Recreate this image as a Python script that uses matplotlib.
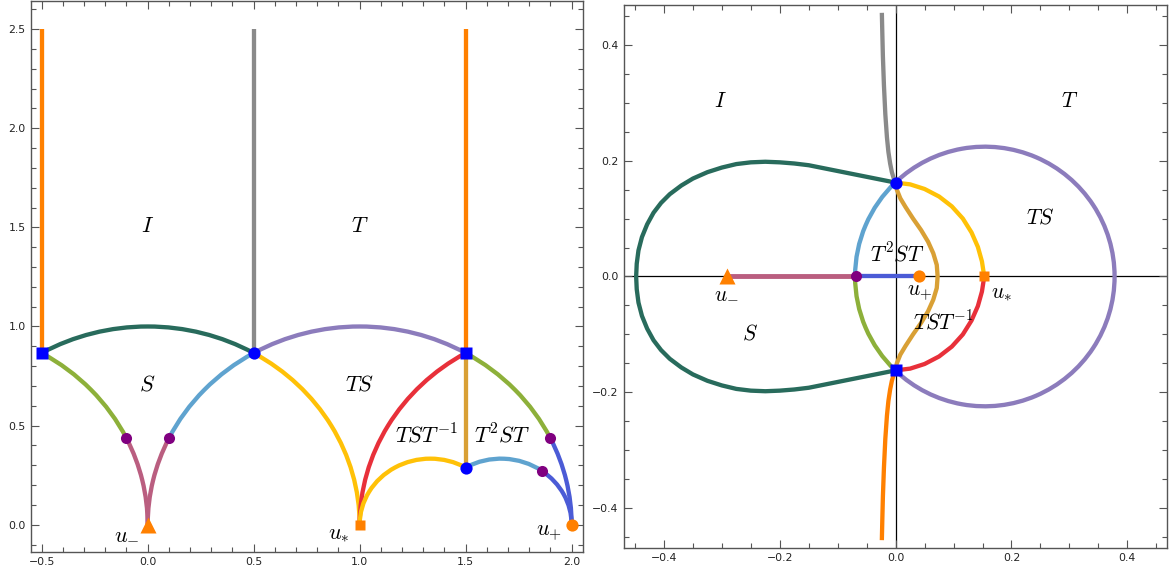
import matplotlib
matplotlib.use("Agg")
import matplotlib.pyplot as plt
from matplotlib.patches import Arc
from matplotlib.ticker import MultipleLocator, FuncFormatter

plt.rcParams['mathtext.fontset'] = 'cm'
plt.rcParams['font.family'] = ['DejaVu Sans']

# ---------------- colours ----------------
C_ORANGE = '#FF8000'
C_GRAY = '#8A8A8A'
C_DKGREEN = '#286B5C'
C_PURPLE = '#8C7CBC'
C_OLIVE = '#8DB03A'
C_LTBLUE = '#5FA3CF'
C_MAUVE = '#BA5E80'
C_YELLOW = '#FFC107'
C_RED = '#E8303A'
C_ROYAL = '#4B5BD6'
C_GOLD = '#D9A035'
C_DOT_PURPLE = '#800080'
C_DOT_BLUE = '#0000FF'

# ---------------- left panel data (tau plane) ----------------
# circular arcs: centre x (on real axis), radius, start angle, end angle (degrees)
L_arc_cx = [0.0, 1.0, -1.0, -1.0, 1.0, 1.0, 0.0, 2.0, 1.0, 1.0, 1.3333, 1.6667, 1.6667]
L_arc_r = [1.0, 1.0, 1.0, 1.0, 1.0, 1.0, 1.0, 1.0, 1.0, 1.0, 0.3333, 0.3333, 0.3333]
L_arc_t1 = [60, 60, 25.84, 0, 120, 154.16, 0, 120, 25.84, 0, 60, 54.6, 0]
L_arc_t2 = [120, 120, 60, 25.84, 154.16, 180, 60, 180, 60, 25.84, 180, 120, 54.6]
L_arc_col = [C_DKGREEN, C_PURPLE, C_OLIVE, C_MAUVE, C_LTBLUE, C_MAUVE, C_YELLOW,
             C_RED, C_OLIVE, C_ROYAL, C_YELLOW, C_LTBLUE, C_ROYAL]

# vertical segments: x, y bottom, y top
L_vx = [1.5, -0.5, 0.5, 1.5]
L_vy0 = [0.2887, 0.866, 0.866, 0.866]
L_vy1 = [0.866, 2.5, 2.5, 2.5]
L_vcol = [C_GOLD, C_ORANGE, C_GRAY, C_ORANGE]

# markers
L_bsq_x, L_bsq_y = [-0.5, 1.5], [0.866, 0.866]
L_bci_x, L_bci_y = [0.5, 1.5], [0.866, 0.2887]
L_pur_x, L_pur_y = [-0.1, 0.1, 1.9, 1.86], [0.436, 0.436, 0.436, 0.271]
L_umin = (0.0, 0.0)
L_ustar = (1.0, 0.0)
L_uplus = (2.0, 0.0)

L_labels = ['$I$', '$T$', '$S$', '$TS$', '$TST^{-1}$', '$T^2ST$', '$u_{-}$', '$u_{*}$', '$u_{+}$']
L_lab_x = [0.0, 1.0, 0.0, 1.0, 1.316, 1.673, -0.10, 0.90, 1.895]
L_lab_y = [1.506, 1.506, 0.706, 0.706, 0.453, 0.453, -0.045, -0.048, -0.045]

# ---------------- right panel data (u plane) ----------------
R_circ_c = (0.154, 0.0)
R_circ_r = 0.224
R_arc_t1 = [-133.5, 133.5, 180.0]
R_arc_t2 = [133.5, 180.0, 226.5]
R_arc_col = [C_PURPLE, C_LTBLUE, C_OLIVE]

R_loop_x = [0.000, -0.025, -0.050, -0.075, -0.100, -0.125, -0.150, -0.175, -0.200, -0.225,
            -0.250, -0.275, -0.300, -0.325, -0.350, -0.370, -0.390, -0.405, -0.418, -0.429,
            -0.438, -0.444, -0.447, -0.448,
            -0.447, -0.444, -0.438, -0.429, -0.418, -0.405, -0.390, -0.370, -0.350, -0.325,
            -0.300, -0.275, -0.250, -0.225, -0.200, -0.175, -0.150, -0.125, -0.100, -0.075,
            -0.050, -0.025, 0.000]
R_loop_y = [0.162, 0.167, 0.172, 0.177, 0.182, 0.187, 0.192, 0.195, 0.197, 0.198,
            0.197, 0.194, 0.188, 0.180, 0.169, 0.157, 0.142, 0.127, 0.110, 0.090,
            0.068, 0.045, 0.022, 0.000,
            -0.022, -0.045, -0.068, -0.090, -0.110, -0.127, -0.142, -0.157, -0.169, -0.180,
            -0.188, -0.194, -0.197, -0.198, -0.197, -0.195, -0.192, -0.187, -0.182, -0.177,
            -0.172, -0.167, -0.162]

R_gold_x = [0.000, 0.002, 0.008, 0.017, 0.030, 0.044, 0.056, 0.065, 0.071, 0.0725,
            0.071, 0.065, 0.056, 0.044, 0.030, 0.017, 0.008, 0.002, 0.000]
R_gold_y = [0.162, 0.150, 0.135, 0.120, 0.100, 0.080, 0.060, 0.040, 0.020, 0.000,
            -0.020, -0.040, -0.060, -0.080, -0.100, -0.120, -0.135, -0.150, -0.162]

R_yel_x = [0.000, 0.025, 0.050, 0.075, 0.097, 0.116, 0.131, 0.142, 0.149, 0.153]
R_yel_y = [0.162, 0.159, 0.151, 0.138, 0.121, 0.100, 0.076, 0.051, 0.026, 0.000]
R_red_x = [0.153, 0.149, 0.142, 0.131, 0.116, 0.097, 0.075, 0.050, 0.025, 0.000]
R_red_y = [0.000, -0.026, -0.051, -0.076, -0.100, -0.121, -0.138, -0.151, -0.159, -0.162]

R_gray_x = [0.000, -0.0035, -0.0065, -0.0095, -0.0125, -0.015, -0.0178, -0.0202, -0.022, -0.023, -0.0238]
R_gray_y = [0.162, 0.170, 0.180, 0.195, 0.215, 0.240, 0.280, 0.330, 0.380, 0.420, 0.455]
R_oran_x = [0.000, -0.0035, -0.0065, -0.0095, -0.0125, -0.015, -0.0178, -0.0202, -0.022, -0.023, -0.0238]
R_oran_y = [-0.162, -0.170, -0.180, -0.195, -0.215, -0.240, -0.280, -0.330, -0.380, -0.420, -0.455]

R_mauve_x, R_mauve_y = [-0.292, -0.069], [0.0, 0.0]
R_blue_x, R_blue_y = [-0.069, 0.041], [0.0, 0.0]

R_bci = (0.0, 0.162)
R_bsq = (0.0, -0.162)
R_pur = (-0.069, 0.0)
R_umin = (-0.292, 0.0)
R_ustar = (0.153, 0.0)
R_uplus = (0.041, 0.0)

R_labels = ['$I$', '$T$', '$TS$', '$T^2ST$', '$S$', '$TST^{-1}$', '$u_{-}$', '$u_{+}$', '$u_{*}$']
R_lab_x = [-0.302, 0.300, 0.250, 0.003, -0.251, 0.082, -0.293, 0.041, 0.183]
R_lab_y = [0.302, 0.302, 0.102, 0.041, -0.098, -0.077, -0.028, -0.028, -0.028]

LW = 3.1
FRAME = '#555555'
MS_CIRC, MS_SQ, MS_PUR, MS_TRI = 8.8, 8.3, 8.0, 11.5


def style_axes(ax, major, minor):
    ax.xaxis.set_major_locator(MultipleLocator(major))
    ax.xaxis.set_minor_locator(MultipleLocator(minor))
    ax.yaxis.set_major_locator(MultipleLocator(major))
    ax.yaxis.set_minor_locator(MultipleLocator(minor))
    fmt = FuncFormatter(lambda v, p: ('%.1f' % v).replace('-', '\u2212'))
    ax.xaxis.set_major_formatter(fmt)
    ax.yaxis.set_major_formatter(fmt)
    ax.tick_params(which='both', direction='in', top=True, right=True,
                   color=FRAME, width=0.8, labelsize=7.8, labelcolor='#222222')
    ax.tick_params(which='major', length=6, pad=3.8)
    ax.tick_params(which='minor', length=3.5)
    for s in ax.spines.values():
        s.set_color(FRAME)
        s.set_linewidth(1.0)


fig = plt.figure(figsize=(11.76, 5.75), dpi=100)

# ---------------- left ----------------
axL = fig.add_axes([0.02636, 0.0405, 0.4691, 0.9575])
for cx, r, t1, t2, c in zip(L_arc_cx, L_arc_r, L_arc_t1, L_arc_t2, L_arc_col):
    axL.add_patch(Arc((cx, 0.0), 2 * r, 2 * r, theta1=t1, theta2=t2,
                      color=c, lw=LW, zorder=2))
for x, y0, y1, c in zip(L_vx, L_vy0, L_vy1, L_vcol):
    axL.plot([x, x], [y0, y1], color=c, lw=LW, solid_capstyle='butt', zorder=2)
axL.plot(L_bsq_x, L_bsq_y, 's', color=C_DOT_BLUE, ms=MS_SQ, zorder=5, mec='none')
axL.plot(L_bci_x, L_bci_y, 'o', color=C_DOT_BLUE, ms=MS_CIRC, zorder=5, mec='none')
axL.plot(L_pur_x, L_pur_y, 'o', color=C_DOT_PURPLE, ms=MS_PUR, zorder=5, mec='none')
axL.plot(*L_umin, '^', color=C_ORANGE, ms=MS_TRI, zorder=5, mec='none')
axL.plot(*L_ustar, 's', color=C_ORANGE, ms=MS_SQ - 0.6, zorder=5, mec='none')
axL.plot(*L_uplus, 'o', color=C_ORANGE, ms=MS_CIRC, zorder=5, mec='none')
for t, x, y in zip(L_labels, L_lab_x, L_lab_y):
    axL.text(x, y, t, fontsize=16, ha='center', va='center', zorder=6)
axL.set_xlim(-0.5505, 2.052)
axL.set_ylim(-0.136, 2.641)
style_axes(axL, 0.5, 0.1)

# ---------------- right ----------------
axR = fig.add_axes([0.5306, 0.0475, 0.4615, 0.9438])
axR.axhline(0, color='black', lw=0.9, zorder=1)
axR.axvline(0, color='black', lw=0.9, zorder=1)
for t1, t2, c in zip(R_arc_t1, R_arc_t2, R_arc_col):
    axR.add_patch(Arc(R_circ_c, 2 * R_circ_r, 2 * R_circ_r, theta1=t1, theta2=t2,
                      color=c, lw=LW, zorder=2))
axR.plot(R_loop_x, R_loop_y, color=C_DKGREEN, lw=LW, zorder=2, solid_joinstyle='round')
axR.plot(R_gray_x, R_gray_y, color=C_GRAY, lw=LW, solid_capstyle='butt', solid_joinstyle='round', zorder=2)
axR.plot(R_oran_x, R_oran_y, color=C_ORANGE, lw=LW, solid_capstyle='butt', solid_joinstyle='round', zorder=2)
axR.plot(R_yel_x, R_yel_y, color=C_YELLOW, lw=LW, zorder=2, solid_joinstyle='round')
axR.plot(R_red_x, R_red_y, color=C_RED, lw=LW, zorder=2, solid_joinstyle='round')
axR.plot(R_gold_x, R_gold_y, color=C_GOLD, lw=LW, zorder=3, solid_joinstyle='round')
axR.plot(R_mauve_x, R_mauve_y, color=C_MAUVE, lw=LW + 0.4, zorder=3)
axR.plot(R_blue_x, R_blue_y, color=C_ROYAL, lw=LW, zorder=3)
axR.plot(*R_bci, 'o', color=C_DOT_BLUE, ms=MS_CIRC, zorder=5, mec='none')
axR.plot(*R_bsq, 's', color=C_DOT_BLUE, ms=MS_SQ, zorder=5, mec='none')
axR.plot(*R_pur, 'o', color=C_DOT_PURPLE, ms=MS_PUR, zorder=5, mec='none')
axR.plot(*R_umin, '^', color=C_ORANGE, ms=MS_TRI, zorder=5, mec='none')
axR.plot(*R_ustar, 's', color=C_ORANGE, ms=MS_SQ - 0.6, zorder=5, mec='none')
axR.plot(*R_uplus, 'o', color=C_ORANGE, ms=MS_CIRC, zorder=5, mec='none')
for t, x, y in zip(R_labels, R_lab_x, R_lab_y):
    axR.text(x, y, t, fontsize=15.5, ha='center', va='center', zorder=6)
axR.set_xlim(-0.469, 0.468)
axR.set_ylim(-0.468, 0.4685)
style_axes(axR, 0.2, 0.05)

fig.savefig('out.png', dpi=100)
